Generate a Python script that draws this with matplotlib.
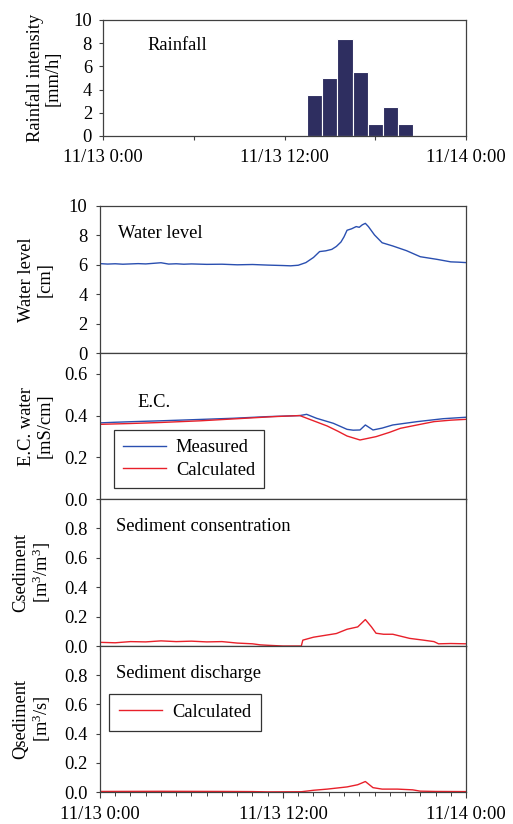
import matplotlib
matplotlib.use("Agg")
import matplotlib.pyplot as plt

plt.rcParams['font.family'] = ['Liberation Serif', 'DejaVu Serif']
plt.rcParams['mathtext.default'] = 'regular'
plt.rcParams['font.size'] = 13.3

# rainfall, hourly bars (hour of 11/13)
rain_hour = [14, 15, 16, 17, 18, 19, 20]
rain_mmh = [3.5, 5.0, 8.4, 5.5, 1.0, 2.5, 1.0]

# water level [cm]
wl_t = [0, 0.5, 1, 1.5, 2, 2.5, 3, 3.5, 4, 4.5, 5, 5.5, 6, 7, 8, 9, 10, 11,
        12, 12.5, 13, 13.5, 14, 14.4, 14.8, 15.2, 15.5, 15.8, 16.0, 16.2,
        16.5, 16.8, 17.0, 17.2, 17.4, 17.6, 18.0, 18.5, 19.2, 20.1, 21.0,
        22.1, 23.0, 23.5, 24]
wl = [6.08, 6.05, 6.07, 6.04, 6.06, 6.08, 6.06, 6.1, 6.14, 6.05, 6.07, 6.04,
      6.06, 6.03, 6.04, 6.0, 6.02, 5.98, 5.95, 5.93, 5.97, 6.15, 6.5, 6.9,
      6.95, 7.05, 7.25, 7.55, 7.9, 8.35, 8.45, 8.6, 8.55, 8.72, 8.82, 8.6,
      8.03, 7.5, 7.28, 6.96, 6.55, 6.37, 6.2, 6.18, 6.15]

# E.C. [mS/cm]
ecm_t = [0, 1, 2.2, 4, 6, 8.7, 11, 13.1, 13.55, 14.2, 15.3, 16.2, 16.6, 17.05,
         17.4, 17.9, 18.5, 19.2, 20.8, 22.5, 24]
ecm = [0.365, 0.368, 0.371, 0.375, 0.38, 0.387, 0.395, 0.40, 0.406, 0.387,
       0.363, 0.334, 0.33, 0.331, 0.355, 0.331, 0.34, 0.355, 0.371, 0.385, 0.392]
ecc_t = [0, 2, 4, 6.6, 9, 11.4, 13.1, 14.0, 14.9, 15.6, 16.2, 17.05, 18.1,
         19.0, 19.7, 21.0, 21.9, 23, 24]
ecc = [0.358, 0.362, 0.367, 0.375, 0.385, 0.395, 0.40, 0.375, 0.35, 0.325,
       0.302, 0.283, 0.299, 0.32, 0.339, 0.358, 0.371, 0.378, 0.382]

# sediment concentration [m3/m3]
cs_t = [0, 1, 2, 3, 4, 5, 6, 7, 8, 9, 10, 10.5, 11, 12, 13.0, 13.2, 13.3, 14.0,
        14.9, 15.5, 16.2, 16.9, 17.4, 17.8, 18.1, 18.6, 19.2, 20.3, 21.2, 21.9,
        22.2, 23, 24]
cs = [0.025, 0.022, 0.03, 0.028, 0.035, 0.03, 0.033, 0.028, 0.03, 0.02, 0.015,
      0.008, 0.005, 0.0, 0.0, 0.0, 0.04, 0.06, 0.075, 0.085, 0.114, 0.13, 0.18,
      0.13, 0.087, 0.08, 0.08, 0.052, 0.04, 0.03, 0.015, 0.017, 0.015]

# sediment discharge [m3/s]
qs_t = [0, 4, 8, 10, 11, 13.2, 14, 14.9, 16.2, 16.9, 17.4, 17.9, 18.5, 19.5,
        20.5, 21.0, 22, 24]
qs = [0.004, 0.005, 0.004, 0.003, 0.001, 0.002, 0.012, 0.02, 0.035, 0.05,
      0.072, 0.03, 0.02, 0.02, 0.015, 0.006, 0.004, 0.003]

date_labels = ["11/13 0:00", "11/13 12:00", "11/14 0:00"]

BLUE = '#2a4fb0'
RED = '#e8202a'
BAR = '#2e2e60'
SPINE = '#404040'

fig = plt.figure(figsize=(5.13, 8.24), dpi=100)


def style(ax):
    for s in ax.spines.values():
        s.set_color(SPINE)
        s.set_linewidth(0.9)
    ax.tick_params(direction='out', length=3, width=0.8, color=SPINE)
    ax.tick_params(axis='y', pad=6)
    ax.set_xlim(0, 24)


# rainfall
ax0 = fig.add_axes([0.2008, 0.8350, 0.7076, 0.1408])
ax0.bar(rain_hour, rain_mmh, width=1.0, color=BAR, edgecolor='white', linewidth=0.8)
style(ax0)
ax0.set_ylim(0, 10)
ax0.set_yticks([0, 2, 4, 6, 8, 10])
ax0.set_xticks([0, 6, 12, 18, 24])
ax0.set_xticklabels([date_labels[0], "", date_labels[1], "", date_labels[2]])
ax0.tick_params(axis='x', pad=6.5)
ax0.tick_params(axis='y', pad=5)
ax0.set_ylabel("Rainfall intensity\n[mm/h]", linespacing=1.1)
ax0.yaxis.set_label_coords(-0.113, 0.5)
ax0.text(0.121, 0.784, "Rainfall", transform=ax0.transAxes, va='center')

lw_left, lw_width = 0.1949, 0.7135
ax1 = fig.add_axes([lw_left, 0.5716, lw_width, 0.1784])
ax2 = fig.add_axes([lw_left, 0.3944, lw_width, 0.1772])
ax3 = fig.add_axes([lw_left, 0.2160, lw_width, 0.1784])
ax4 = fig.add_axes([lw_left, 0.0388, lw_width, 0.1772])

ax1.plot(wl_t, wl, color=BLUE, lw=1.0)
ax1.set_ylim(0, 10)
ax1.set_yticks([0, 2, 4, 6, 8, 10])
ax1.set_ylabel("Water level\n[cm]", linespacing=1.1)
ax1.text(0.049, 0.816, "Water level", transform=ax1.transAxes, va='center')

ax2.plot(ecm_t, ecm, color=BLUE, lw=1.0, label="Measured")
ax2.plot(ecc_t, ecc, color=RED, lw=1.0, label="Calculated")
ax2.set_ylim(0, 0.7)
ax2.set_yticks([0.0, 0.2, 0.4, 0.6])
ax2.set_yticklabels(["0.0", "0.2", "0.4", "0.6"])
ax2.set_ylabel("E.C. water\n[mS/cm]", linespacing=1.1)
ax2.text(0.101, 0.658, "E.C.", transform=ax2.transAxes, va='center')
leg = ax2.legend(loc='lower left', bbox_to_anchor=(0.038, 0.075), borderaxespad=0,
                 fancybox=False, framealpha=1, edgecolor='#333333',
                 handlelength=2.3, handletextpad=0.55, labelspacing=0.3,
                 borderpad=0.5)
leg.get_frame().set_linewidth(0.9)

ax3.plot(cs_t, cs, color=RED, lw=1.0)
ax3.set_ylim(0, 1.0)
ax3.set_yticks([0.0, 0.2, 0.4, 0.6, 0.8])
ax3.set_yticklabels(["0.0", "0.2", "0.4", "0.6", "0.8"])
ax3.set_ylabel("Csediment\n[m$^3$/m$^3$]", linespacing=1.1)
ax3.text(0.044, 0.816, "Sediment consentration", transform=ax3.transAxes, va='center')

ax4.plot(qs_t, qs, color=RED, lw=1.0, label="Calculated")
ax4.set_ylim(0, 1.0)
ax4.set_yticks([0.0, 0.2, 0.4, 0.6, 0.8])
ax4.set_yticklabels(["0.0", "0.2", "0.4", "0.6", "0.8"])
ax4.set_ylabel("Qsediment\n[m$^3$/s]", linespacing=1.1)
ax4.text(0.044, 0.815, "Sediment discharge", transform=ax4.transAxes, va='center')
leg = ax4.legend(loc='lower left', bbox_to_anchor=(0.025, 0.418), borderaxespad=0,
                 fancybox=False, framealpha=1, edgecolor='#333333',
                 handlelength=2.3, handletextpad=0.55, borderpad=0.55)
leg.get_frame().set_linewidth(0.9)

for ax in (ax1, ax2, ax3, ax4):
    style(ax)
    ax.yaxis.set_label_coords(-0.128, 0.5)

for ax in (ax1, ax2, ax3):
    ax.set_xticks([0, 8, 16, 24])
    ax.set_xticklabels([])

ax4.set_xticks([0, 12, 24])
ax4.set_xticklabels(date_labels)
ax4.set_xticks(range(25), minor=True)
ax4.tick_params(axis='x', which='major', length=4, pad=6)
ax4.tick_params(axis='x', which='minor', direction='out', length=3, width=0.7, color=SPINE)

fig.savefig("out.png", dpi=100)
